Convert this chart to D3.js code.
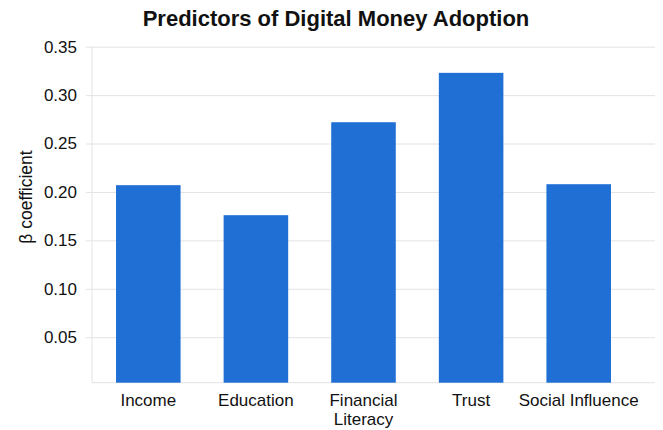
<!DOCTYPE html>
<html>
<head>
<meta charset="utf-8">
<script src="https://cdn.jsdelivr.net/npm/d3@7"></script>
<style>
  body { margin: 0; background: #fff; }
  svg { display: block; font-family: "Liberation Sans", Arial, Helvetica, sans-serif; }
</style>
</head>
<body>
<svg id="chart" width="663" height="430"></svg>
<script>
const categories = ["Income", "Education", "Financial Literacy", "Trust", "Social Influence"];
const labelLines = [["Income"], ["Education"], ["Financial", "Literacy"], ["Trust"], ["Social Influence"]];
const values = [0.207, 0.176, 0.272, 0.323, 0.208];
const yTicks = [0.05, 0.10, 0.15, 0.20, 0.25, 0.30, 0.35];
const title = "Predictors of Digital Money Adoption";
const yTitle = "β coefficient";

const svg = d3.select("#chart");
const plotLeft = 92, plotRight = 655, plotTop = 46.7, plotBottom = 382.7;

const x = d3.scaleBand().domain(categories).range([94.5, 632.5]).paddingInner(0.4).paddingOuter(0.2);
const y = d3.scaleLinear().domain([0.003, 0.35]).range([plotBottom, plotTop]);

// gridlines + y tick labels
const yAxis = d3.axisLeft(y).tickValues(yTicks).tickFormat(d3.format(".2f"))
  .tickSize(0).tickPadding(9);
const gy = svg.append("g").attr("transform", `translate(${plotLeft - 6},0)`).call(yAxis);
gy.select(".domain").remove();
gy.selectAll(".tick line").attr("stroke", "#e3e3e3").attr("stroke-width", 1)
  .attr("x1", 0).attr("x2", plotRight - plotLeft + 6);
gy.selectAll(".tick text").attr("font-size", 17).attr("fill", "#111").attr("x", -9);

// axis lines
svg.append("line").attr("x1", plotLeft).attr("x2", plotLeft).attr("y1", plotTop).attr("y2", plotBottom)
  .attr("stroke", "#e3e3e3");
svg.append("line").attr("x1", plotLeft).attr("x2", plotRight).attr("y1", plotBottom).attr("y2", plotBottom)
  .attr("stroke", "#e3e3e3");

// bars
svg.append("g").selectAll("rect").data(values).join("rect")
  .attr("x", (d, i) => x(categories[i]))
  .attr("width", x.bandwidth())
  .attr("y", d => y(d))
  .attr("height", d => plotBottom - y(d))
  .attr("fill", "#1f6fd5");

// x labels (one text per line)
const lineData = [];
categories.forEach((c, i) => labelLines[i].forEach((ln, j) => lineData.push({ c, ln, j })));
svg.append("g").selectAll("text").data(lineData).join("text")
  .attr("x", d => x(d.c) + x.bandwidth() / 2)
  .attr("y", d => 405.5 + d.j * 19)
  .attr("text-anchor", "middle")
  .attr("font-size", 17)
  .attr("fill", "#111")
  .text(d => d.ln);

// y title
svg.append("text")
  .attr("transform", `translate(32,197) rotate(-90)`)
  .attr("text-anchor", "middle")
  .attr("font-size", 17.5)
  .attr("fill", "#111")
  .text(yTitle);

// title
svg.append("text")
  .attr("x", 336).attr("y", 26)
  .attr("text-anchor", "middle")
  .attr("font-size", 22)
  .attr("font-weight", "bold")
  .attr("fill", "#111")
  .text(title);
</script>
</body>
</html>
